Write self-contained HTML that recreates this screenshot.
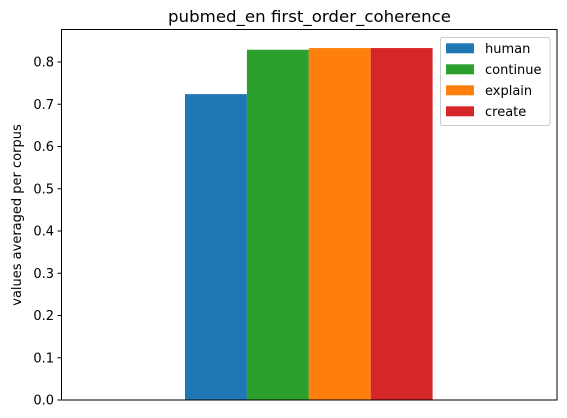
<!DOCTYPE html>
<html><head><meta charset="utf-8"><style>
html,body{margin:0;padding:0;background:#fff;}
svg{display:block;font-family:"DejaVu Sans","Liberation Sans",sans-serif;}
</style></head><body>
<svg id="chart" width="567" height="418" viewBox="0 0 567 418">
<text x="309.5" y="22" text-anchor="middle" font-size="16" textLength="283" lengthAdjust="spacingAndGlyphs">pubmed_en first_order_coherence</text>
<text transform="translate(21,215) rotate(-90)" text-anchor="middle" font-size="13">values averaged per corpus</text>
<g id="bars"></g>
<g id="yticks"></g>
<rect x="61.5" y="29.5" width="495.5" height="370.5" fill="none" stroke="#000" stroke-width="1"/>
<g id="legend">
<rect x="440.5" y="37.5" width="109.5" height="88" rx="2" fill="#fff" fill-opacity="0.8" stroke="#ccc"/>
</g>
</svg>
<script>
const categories = ["human","continue","explain","create"];
const values = [0.724, 0.829, 0.833, 0.833];
const colors = ["#1f77b4","#2ca02c","#ff7f0e","#d62728"];
const tickLabels = ["0.0","0.1","0.2","0.3","0.4","0.5","0.6","0.7","0.8"];
const tickValues = [0,0.1,0.2,0.3,0.4,0.5,0.6,0.7,0.8];

const NS="http://www.w3.org/2000/svg";
const y0=400, pxPer=422.5;
function yScale(v){return y0 - v*pxPer;}
const barStart=185, barW=61.9;
function xScale(i){return barStart + i*barW;}

const bars=document.getElementById('bars');
values.forEach((v,i)=>{
  const r=document.createElementNS(NS,'rect');
  r.setAttribute('x',xScale(i));
  r.setAttribute('y',yScale(v));
  r.setAttribute('width',barW);
  r.setAttribute('height',y0-yScale(v));
  r.setAttribute('fill',colors[i]);
  
  
  bars.appendChild(r);
});

const yt=document.getElementById('yticks');
tickValues.forEach((v,i)=>{
  const y=yScale(v);
  const l=document.createElementNS(NS,'line');
  l.setAttribute('x1',57.5);l.setAttribute('x2',61.5);
  l.setAttribute('y1',y);l.setAttribute('y2',y);
  l.setAttribute('stroke','#000');
  
  
  yt.appendChild(l);
  const t=document.createElementNS(NS,'text');
  t.setAttribute('x',54);t.setAttribute('y',y+4.5);
  t.setAttribute('text-anchor','end');t.setAttribute('font-size','13');
  t.textContent=tickLabels[i];
  
  
  yt.appendChild(t);
});

const lg=document.getElementById('legend');
categories.forEach((c,i)=>{
  const cy=48.3+i*21;
  const r=document.createElementNS(NS,'rect');
  r.setAttribute('x',446);r.setAttribute('y',cy-5);
  r.setAttribute('width',28);r.setAttribute('height',10);
  r.setAttribute('fill',colors[i]);
  
  
  lg.appendChild(r);
  const t=document.createElementNS(NS,'text');
  t.setAttribute('x',485);t.setAttribute('y',cy+4.5);
  t.setAttribute('font-size','13');
  t.textContent=c;
  
  
  lg.appendChild(t);
});
</script>
</body></html>
